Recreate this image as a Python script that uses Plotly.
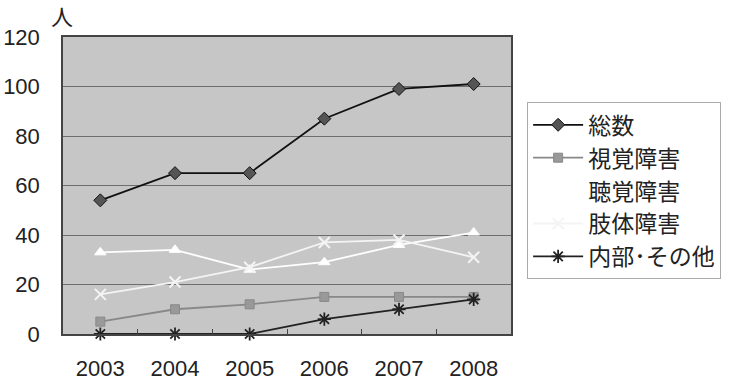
import plotly.graph_objects as go

years = ["2003", "2004", "2005", "2006", "2007", "2008"]
total = [54, 65, 65, 87, 99, 101]
visual = [5, 10, 12, 15, 15, 15]
hearing = [33, 34, 26, 29, 36, 41]
physical = [16, 21, 27, 37, 38, 31]
internal = [0, 0, 0, 6, 10, 14]
y_ticks = [0, 20, 40, 60, 80, 100, 120]

series = [
    ("総数", total, dict(color="#111111", width=1.8), dict(symbol="diamond", size=10, color="#555555", line=dict(color="#111111", width=1))),
    ("視覚障害", visual, dict(color="#888888", width=1.8), dict(symbol="square", size=9, color="#999999", line=dict(color="#888888", width=1))),
    ("聴覚障害", hearing, dict(color="#ffffff", width=1.8), dict(symbol="triangle-up", size=10, color="#ffffff", line=dict(color="#ffffff", width=1))),
    ("肢体障害", physical, dict(color="#f4f4f4", width=1.8), dict(symbol="x-thin-open", size=11, color="#f4f4f4", line=dict(color="#f4f4f4", width=2))),
    ("内部･その他", internal, dict(color="#222222", width=1.8), dict(symbol="asterisk-open", size=11, color="#222222", line=dict(color="#222222", width=1.8))),
]

fig = go.Figure()
for i, (name, vals, line, marker) in enumerate(series):
    fig.add_trace(go.Scatter(x=years, y=vals, name=name, mode="lines+markers",
                             line=line, marker=marker, legendgroup=f"g{i}", cliponaxis=False))

font_family = "Liberation Sans, Arial, Noto Sans CJK JP, sans-serif"
fig.update_layout(
    width=740, height=390,
    margin=dict(l=63, r=229, t=37, b=56, autoexpand=False),
    paper_bgcolor="white",
    plot_bgcolor="#c6c6c6",
    font=dict(family=font_family, size=22, color="#222222"),
    showlegend=True,
    legend=dict(x=1.036, y=0.78, xanchor="left", yanchor="top",
                bgcolor="white", bordercolor="#aaaaaa", borderwidth=1,
                font=dict(size=23, family="Noto Sans CJK JP, sans-serif", color="#222222"),
                tracegroupgap=0, itemwidth=50),
    xaxis=dict(type="category", range=[-0.5, 5.5], showgrid=False, automargin=False,
               ticks="inside", tickson="boundaries", ticklen=5, tickcolor="#444444",
               showline=True, linecolor="#444444", linewidth=1.5, mirror=True,
               tickfont=dict(size=22), ticklabelstandoff=14),
    yaxis=dict(range=[0, 120], tickvals=y_ticks, showgrid=True, gridcolor="#6e6e6e", gridwidth=1,
               showline=True, linecolor="#444444", linewidth=1.5, mirror=True, automargin=False,
               ticks="", tickfont=dict(size=22), zeroline=False, ticklabelstandoff=17),
    annotations=[dict(text="人", xref="paper", yref="paper", x=0, y=1,
                      xanchor="center", yanchor="middle", xshift=-1, yshift=22,
                      showarrow=False, font=dict(size=22, family="Noto Sans CJK JP, sans-serif", color="#222222"))],
)

fig.write_html("out.html", config={"displayModeBar": False},
               post_script="document.body.style.margin='0px';")
